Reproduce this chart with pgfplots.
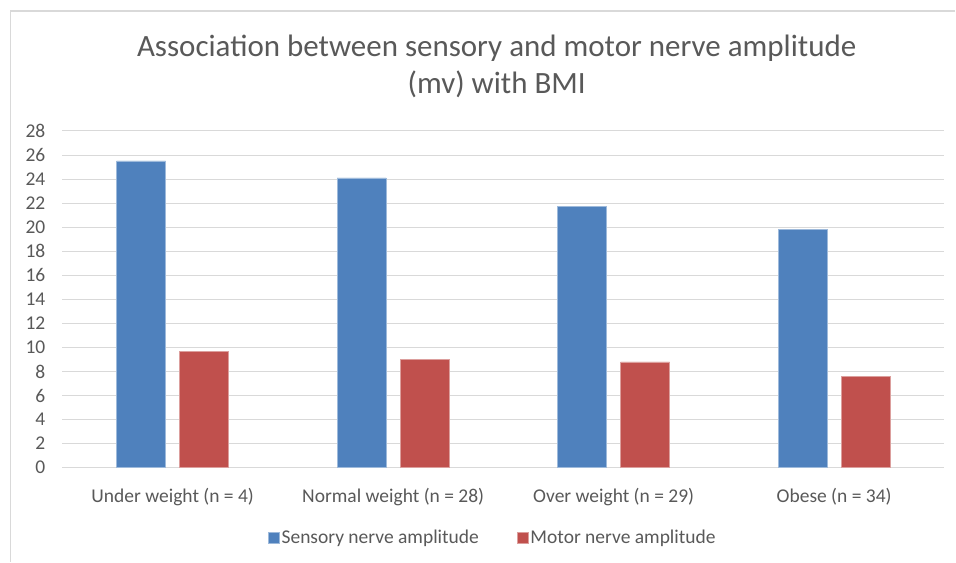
\documentclass[border=0pt]{standalone}
\usepackage{fontspec}
\setmainfont{Carlito}
\usepackage{pgfplots}
\pgfplotsset{compat=1.18}
\definecolor{sens}{HTML}{4F81BD}
\definecolor{mot}{HTML}{C0504D}
\definecolor{txt}{HTML}{595959}
\definecolor{gridc}{HTML}{D9D9D9}

\begin{document}
\begin{tikzpicture}[x=1pt,y=1pt]
% canvas and outer frame
\fill[white] (0,0) rectangle (956,562);
\draw[gridc, line width=1.3pt] (10.5,0) -- (10.5,551) -- (956,551);

\node[anchor=base, text=txt, font=\fontsize{31}{37}\selectfont] at (497,505.3)
  {Association between sensory and motor nerve amplitude};
\node[anchor=base, text=txt, font=\fontsize{31}{37}\selectfont] at (497,468.3)
  {(mv) with BMI};

\begin{axis}[
  at={(62.5pt,94pt)}, anchor=south west,
  scale only axis, width=882.5pt, height=337pt,
  xmin=-0.5, xmax=3.5, ymin=0, ymax=28,
  xtick={0,1,2,3},
  xticklabels={Under weight (n = 4), Normal weight (n = 28), Over weight (n = 29), Obese (n = 34)},
  ytick={0,2,...,28},
  major tick length=0pt,
  axis line style={draw=none},
  ymajorgrids, grid style={gridc, line width=0.9pt},
  /pgf/number format/assume math mode=true,
  ticklabel style={text=txt, font=\fontsize{19.5}{20}\selectfont},
  yticklabel style={anchor=east, inner sep=0pt, xshift=-17pt},
  xticklabel style={anchor=base, inner sep=0pt, yshift=-35.3pt},
  legend style={at={(0.488,-0.2077)}, anchor=center, draw=none,
    font=\fontsize{19.5}{20}\selectfont, text=txt, legend columns=2,
    /tikz/every even column/.append style={column sep=36pt}},
  legend image code/.code={\fill[#1] (-3pt,-5.5pt) rectangle (8pt,5.5pt);},
  clip=false,
]
\addplot[ybar, bar width=0.222, bar shift=-0.143, fill=sens, draw=sens!55!white, line width=0.6pt]
  coordinates {(0,25.5) (1,24.1) (2,21.7) (3,19.8)};
\addplot[ybar, bar width=0.222, bar shift=0.143, fill=mot, draw=mot!55!white, line width=0.6pt]
  coordinates {(0,9.7) (1,9.0) (2,8.8) (3,7.6)};
\legend{Sensory nerve amplitude, Motor nerve amplitude}
\end{axis}
\end{tikzpicture}
\end{document}
